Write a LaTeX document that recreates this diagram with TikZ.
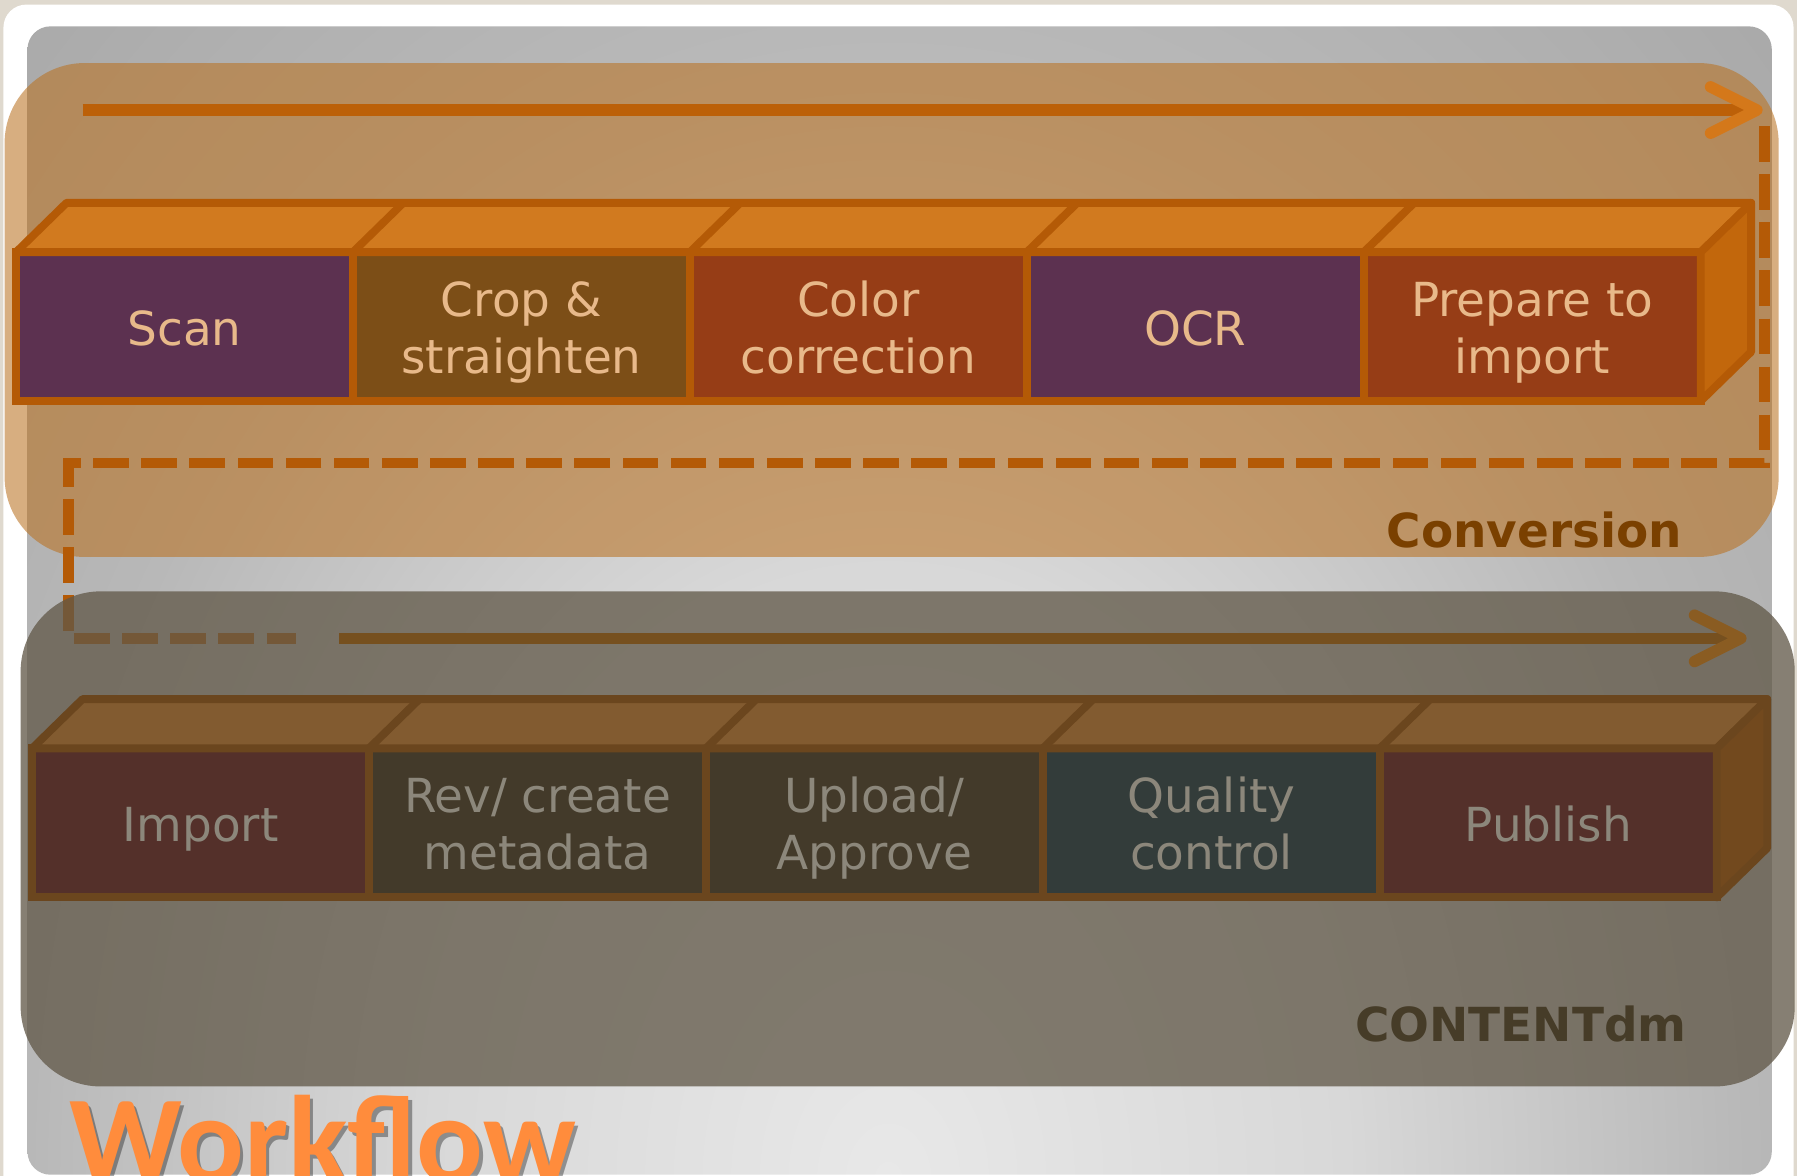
\documentclass[tikz,border=0pt]{standalone}
\usepackage{fontspec}
\setmainfont{DejaVu Sans}
\newfontfamily\titlefont{Carlito}
\usetikzlibrary{arrows.meta}

\definecolor{pagebg}{HTML}{DFD9CE}
\definecolor{panellight}{HTML}{E8E8E8}
\definecolor{panelmid}{HTML}{D8D8D8}
\definecolor{panelgrey}{HTML}{B8B8B8}
\definecolor{paneldark}{HTML}{A2A2A2}
\definecolor{convregion}{HTML}{BA7120}
\definecolor{cdmregion}{HTML}{615848}
\definecolor{convline}{HTML}{B45A06}
\definecolor{convtop}{HTML}{D17A1F}
\definecolor{convside}{HTML}{C2670C}
\definecolor{convtext}{HTML}{E8B98A}
\definecolor{convarrow}{HTML}{BC6008}
\definecolor{convhead}{HTML}{D4781A}
\definecolor{cdmline}{HTML}{6B461E}
\definecolor{cdmtop}{HTML}{825B30}
\definecolor{cdmside}{HTML}{72491E}
\definecolor{cdmtext}{HTML}{8C877B}
\definecolor{cdmarrow}{HTML}{76501F}
\definecolor{cdmhead}{HTML}{8A5C22}
\definecolor{purplecell}{HTML}{5C3150}
\definecolor{browncell}{HTML}{7C4E17}
\definecolor{rustcell}{HTML}{963D16}
\definecolor{winecell}{HTML}{54302A}
\definecolor{olivecell}{HTML}{433A2A}
\definecolor{slatecell}{HTML}{333C3A}
\definecolor{convlabel}{HTML}{7A4000}
\definecolor{cdmlabel}{HTML}{463C28}
\definecolor{titleorange}{HTML}{FF8C3C}

\pgfdeclareradialshading{panelshade}{\pgfpointorigin}{color(0bp)=(panellight); color(8bp)=(panelmid); color(15bp)=(panelgrey); color(25bp)=(paneldark)}
\newcommand{\cellstrut}{\vrule width 0pt height 23.3pt depth 4.9pt}

\begin{document}
\begin{tikzpicture}[x=0.02cm, y=-0.02cm,
    stage/.style={draw, line width=3.9pt, minimum width=5.88cm, minimum height=2.6cm, inner sep=0pt, outer sep=0pt, align=center, font=\fontsize{23.3}{28.4}\selectfont,
      execute at end node=\cellstrut},
    convstage/.style={stage, draw=convline, text=convtext},
    cdmstage/.style={stage, draw=cdmline, text=cdmtext},
    face/.style={line width=3.9pt, line join=round},
    flow/.style={line width=5.7pt},
    loopline/.style={convline, line width=5.4pt, dash pattern=on 0.62cm off 0.22cm},
    tag/.style={anchor=base east, inner sep=0pt, font=\fontsize{23.3}{28}\selectfont\bfseries},
    titletext/.style={anchor=base west, inner sep=0pt, font=\titlefont\bfseries\fontsize{61.8}{62}\selectfont}]
    \useasboundingbox (0,0) rectangle (1568,1026);
    \fill[pagebg] (0,0) rectangle (1568,1026);
    \fill[white, rounded corners=0.4cm] (3,4) rectangle (1565,1060);
    \begin{scope}
      \clip[rounded corners=0.4cm] (24,23) rectangle (1546,1025);
      \shade[shading=panelshade] (-475,-637) rectangle (2025,2697);
    \end{scope}
    \fill[convregion, opacity=0.57, rounded corners=1.4cm] (4,55) rectangle (1552,486);

    \coordinate (convstart) at (72,96);
    \coordinate (convend) at (1538,96);
    \coordinate (loopstart) at (1540,110);
    \coordinate (loopbend) at (60,404);
    \coordinate (loopend) at (258,557);
    \coordinate (cdmstart) at (296,557);
    \coordinate (cdmend) at (1524,557);
    \draw[flow, convarrow, -{Straight Barb[length=23pt, width=23pt, round, color=convhead]}] (convstart) -- (convend);
    \draw[loopline] (loopstart) |- (loopbend) |- (loopend);

    \node[convstage, fill=purplecell] (scan) at (161,285) {Scan};
    \node[convstage, fill=browncell] (crop) at (455,285) {\cellstrut Crop \&\\straighten};
    \node[convstage, fill=rustcell] (colour) at (749,285) {\cellstrut Color\\correction};
    \node[convstage, fill=purplecell] (ocr) at (1043,285) {OCR};
    \node[convstage, fill=rustcell] (prep) at (1337,285) {\cellstrut Prepare to\\import};
    \draw[face, convline, fill=convtop] (scan.north west) -- ++(44,-43) -- ([shift={(44,-43)}]prep.north east) -- (prep.north east) -- cycle;
    \draw[face, convline, fill=convside] (prep.north east) -- ++(44,-43) -- ++(0,130) -- (prep.south east) -- cycle;
    \foreach \n in {scan,crop,colour,ocr}
      \draw[face, convline] (\n.north east) -- ++(44,-43);

    \fill[cdmregion, opacity=0.76, rounded corners=1.4cm] (18,516) rectangle (1566,948);
    \draw[flow, cdmarrow, -{Straight Barb[length=23pt, width=23pt, round, color=cdmhead]}] (cdmstart) -- (cdmend);

    \node[cdmstage, fill=winecell] (import) at (175,718) {Import};
    \node[cdmstage, fill=olivecell] (meta) at (469,718) {\cellstrut Rev/ create\\metadata};
    \node[cdmstage, fill=olivecell] (upload) at (763,718) {\cellstrut Upload/\\Approve};
    \node[cdmstage, fill=slatecell] (quality) at (1057,718) {\cellstrut Quality\\control};
    \node[cdmstage, fill=winecell] (publish) at (1351,718) {Publish};
    \draw[face, cdmline, fill=cdmtop] (import.north west) -- ++(44,-43) -- ([shift={(44,-43)}]publish.north east) -- (publish.north east) -- cycle;
    \draw[face, cdmline, fill=cdmside] (publish.north east) -- ++(44,-43) -- ++(0,130) -- (publish.south east) -- cycle;
    \foreach \n in {import,meta,upload,quality}
      \draw[face, cdmline] (\n.north east) -- ++(44,-43);

    \node[tag, text=convlabel] (convtag) at (1468,478) {Conversion};
    \node[tag, text=cdmlabel] (cdmtag) at (1472,909) {CONTENTdm};
    \node[titletext, text=black, text opacity=0.35] (titleshadow) at (63,1035) {Workflow};
    \node[titletext, text=titleorange] (title) at (60,1032) {Workflow};
\end{tikzpicture}
\end{document}
